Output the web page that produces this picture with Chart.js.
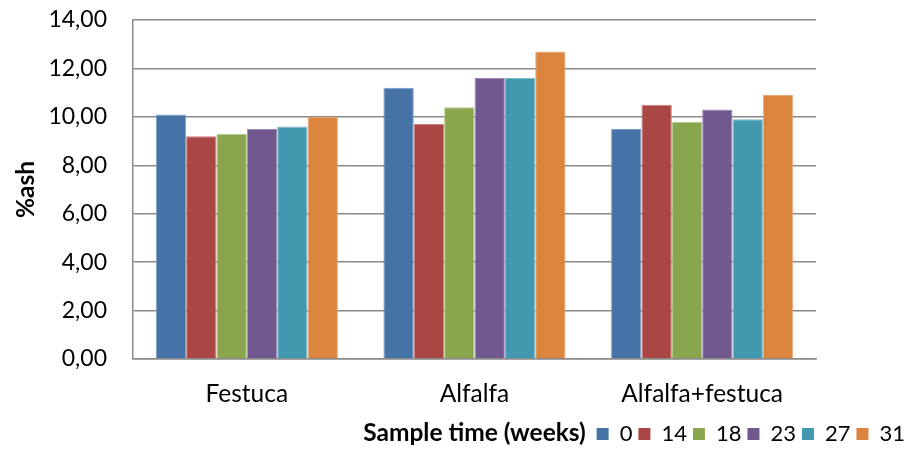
<!DOCTYPE html>
<html>
<head>
<meta charset="utf-8">
<script src="https://cdn.jsdelivr.net/npm/chart.js@4/dist/chart.umd.min.js"></script>
<style>
  html, body { margin: 0; padding: 0; background: #ffffff; }
  #wrap { width: 911px; height: 449px; position: relative; }
</style>
</head>
<body>
<div id="wrap"><canvas id="chart"></canvas></div>
<script>
// Ash content by crop and sampling week
const categories = ['Festuca', 'Alfalfa', 'Alfalfa+festuca'];
const weeks = ['0', '14', '18', '23', '27', '31'];
const week0  = [10.1, 11.2, 9.5];
const week14 = [9.2, 9.7, 10.5];
const week18 = [9.3, 10.4, 9.8];
const week23 = [9.5, 11.6, 10.3];
const week27 = [9.6, 11.6, 9.9];
const week31 = [10.0, 12.7, 10.9];
const seriesValues = [week0, week14, week18, week23, week27, week31];
const yTickMin = 0, yTickMax = 14, yTickStep = 2;

const fills = ['#4572A7', '#AA4643', '#89A54E', '#71588F', '#4198AF', '#DB843D'];
const edges = ['#7f9dc4', '#c9807e', '#b2c98a', '#a08ab9', '#7fbccd', '#eaaa76'];

const FONT = 'Lato, "Open Sans", sans-serif';
const gridColor = '#8a8a8a';

const datasets = weeks.map((w, i) => ({
  label: w,
  data: seriesValues[i],
  backgroundColor: fills[i],
  borderColor: edges[i],
  borderWidth: 1,
  categoryPercentage: 0.8,
  barPercentage: 1.0
}));

Chart.defaults.font.family = FONT;
Chart.defaults.color = '#000000';

new Chart(document.getElementById('chart'), {
  type: 'bar',
  data: { labels: categories, datasets },
  options: {
    responsive: true,
    maintainAspectRatio: false,
    animation: false,
    layout: { padding: { top: 20, right: 0, bottom: -6, left: 0 } },
    plugins: {
      tooltip: { enabled: false },
      legend: {
        position: 'bottom',
        align: 'end',
        labels: {
          font: { size: 22, family: FONT },
          color: '#000000',
          boxWidth: 12,
          boxHeight: 12,
          padding: 6,
          generateLabels(chart) {
            return chart.data.datasets.map((ds, i) => ({
              text: ds.label,
              fillStyle: ds.backgroundColor,
              strokeStyle: ds.backgroundColor,
              lineWidth: 0,
              datasetIndex: i,
              hidden: false
            }));
          }
        }
      }
    },
    scales: {
      x: {
        grid: { display: false, drawTicks: false },
        border: { display: true, color: gridColor, width: 1.5 },
        ticks: { font: { size: 24.5 }, padding: 20, color: '#000000' },
        title: {
          display: true,
          text: 'Sample time (weeks)',
          font: { size: 24.5, weight: 'bold' },
          color: '#000000',
          padding: { top: 0, bottom: -30.7 }
        },
        afterFit(scale) { scale.height = 58; }
      },
      y: {
        min: yTickMin,
        max: yTickMax,
        grid: {
          color: gridColor,
          lineWidth: 1.5,
          drawTicks: true,
          tickLength: 20,
          tickColor: 'rgba(0,0,0,0)'
        },
        border: { display: true, color: gridColor, width: 1.5 },
        ticks: {
          stepSize: yTickStep,
          font: { size: 23 },
          padding: 6,
          color: '#000000',
          callback: v => v.toFixed(2).replace('.', ',')
        },
        title: {
          display: true,
          text: '%ash',
          font: { size: 24.5, weight: 'bold' },
          color: '#000000',
          padding: { top: 11, bottom: 0 }
        },
        afterFit(scale) { scale.width = 133; }
      },
      spacer: {
        position: 'right',
        display: true,
        grid: { display: false, drawTicks: false },
        border: { display: false },
        ticks: { display: false },
        afterFit(scale) { scale.width = 95; }
      }
    }
  }
});
</script>
</body>
</html>
